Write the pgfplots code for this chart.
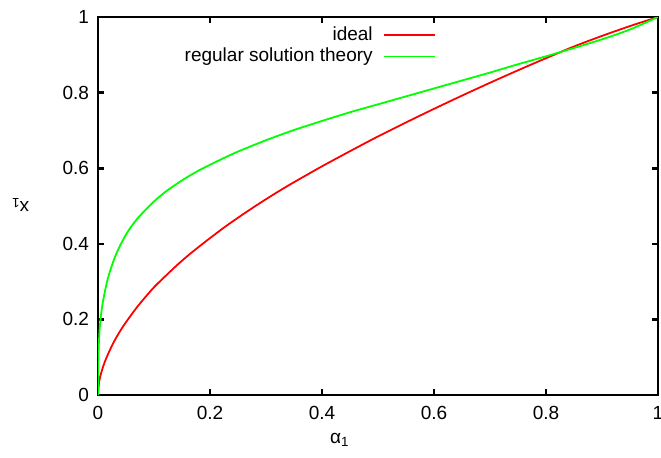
\documentclass[border=0pt]{standalone}
\usepackage{pgfplots}
\pgfplotsset{compat=1.18}
\usepackage{fontspec}
\setmainfont{Liberation Sans}

\pgfplotstableread{
a x
0 0
0.002 0.035
0.006 0.060
0.012 0.087
0.02 0.115
0.03 0.145
0.042 0.175
0.054 0.201
0.07 0.233
0.084 0.258
0.1 0.285
0.12 0.314
0.14 0.342
0.16 0.368
0.18 0.392
0.2 0.415
0.225 0.443
0.25 0.469
0.275 0.494
0.3 0.518
0.325 0.541
0.35 0.563
0.375 0.584
0.4 0.605
0.45 0.645
0.5 0.684
0.55 0.721
0.6 0.757
0.65 0.792
0.7 0.826
0.75 0.859
0.8 0.891
0.85 0.922
0.9 0.950
0.95 0.976
1 1
}\ideal

\pgfplotstableread{
a x
0 0
0.0005 0.085
0.0015 0.135
0.003 0.175
0.005 0.207
0.008 0.240
0.0125 0.275
0.017 0.305
0.022 0.330
0.03 0.364
0.04 0.397
0.054 0.434
0.07 0.466
0.085 0.490
0.1 0.512
0.12 0.537
0.14 0.558
0.16 0.577
0.18 0.594
0.2 0.609
0.225 0.627
0.25 0.644
0.3 0.674
0.35 0.701
0.4 0.725
0.45 0.748
0.5 0.769
0.55 0.790
0.6 0.811
0.65 0.832
0.7 0.853
0.75 0.875
0.8 0.896
0.85 0.918
0.9 0.941
0.95 0.967
1 1
}\regular

\begin{document}
\begin{tikzpicture}
\begin{axis}[
    at={(0,0)}, anchor=south west,
    scale only axis, width=280pt, height=189pt,
    xmin=0, xmax=1, ymin=0, ymax=1,
    xtick={0,0.2,...,1}, ytick={0,0.2,...,1},
    tick align=inside, major tick length=3pt,
    axis line style={line width=1.3pt},
    every tick/.style={black, line width=1.3pt},
    /pgf/number format/assume math mode=true,
    tick label style={font=\fontsize{9.5}{11}\selectfont},
    xticklabel style={yshift=-2pt},
    yticklabel style={xshift=-1pt},
    xlabel={α\textsubscript{1}}, ylabel={x\textsubscript{1}},
    label style={font=\fontsize{9.5}{11}\selectfont},
    xlabel style={at={(axis description cs:0.432,-0.119)}, anchor=center},
    ylabel style={at={(axis description cs:-0.139,0.503)}, anchor=center, rotate=90},
    legend style={draw=none, fill=none, at={(axis cs:0.607,0.992)}, anchor=north east,
        font=\fontsize{9.5}{11}\selectfont, row sep=-1.5pt, inner sep=1pt, column sep=3pt},
    legend cell align=right, legend plot pos=right,
    legend image code/.code={\draw[#1] (0pt,0pt) -- (25.5pt,0pt);},
]
\addplot[red, line width=0.9pt, smooth] table[x=a, y=x] {\ideal};
\addlegendentry{ideal}
\addplot[green, line width=0.9pt, smooth] table[x=a, y=x] {\regular};
\addlegendentry{regular solution theory}
\end{axis}
\pgfresetboundingbox
\useasboundingbox (-49pt,-31pt) rectangle (281.5pt,197.5pt);
\end{tikzpicture}
\end{document}
